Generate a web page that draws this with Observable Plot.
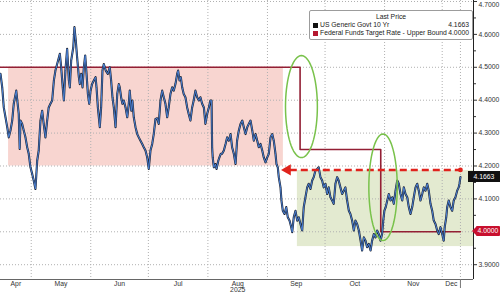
<!DOCTYPE html>
<html><head><meta charset="utf-8">
<script src="https://cdn.jsdelivr.net/npm/d3@7"></script>
<script src="https://cdn.jsdelivr.net/npm/@observablehq/plot@0.6"></script>
<style>
body{margin:0;background:#fff;}
#wrap{position:relative;width:500px;height:295px;overflow:hidden;font-family:"Liberation Sans",Arial,sans-serif;}
#wrap svg{position:absolute;left:0;top:0;}
.legend{position:absolute;background:#fff;border:1px solid #9c9c9c;border-radius:2px;font-size:6.8px;color:#222;line-height:8px;box-sizing:border-box;padding:2px 3px 0 3px;}
.legend .hd{text-align:center;}
.legend .row{display:flex;align-items:center;white-space:nowrap;}
.legend .sw{width:5px;height:5px;margin-right:2px;flex:none;}
.legend .nm{flex:1;}
.legend .vl{text-align:right;}
.tag{position:absolute;color:#fff;font-size:6.8px;text-align:center;box-sizing:border-box;}
</style></head><body><div id="wrap"></div>
<script>
// ---- data (day-of-year 2025) ----
const yieldDoy = [105.0,105.9,106.7,107.6,108.5,109.3,110.2,111.1,111.9,113.2,114.5,115.0,115.4,116.3,117.1,118.0,118.9,119.7,120.6,121.5,122.3,123.2,124.1,124.9,125.8,126.7,127.5,128.4,129.3,130.1,131.0,131.9,132.8,133.6,134.5,135.4,135.9,136.6,137.4,138.0,138.8,139.7,140.6,141.1,141.8,142.9,143.5,144.2,144.9,145.8,146.3,147.0,147.7,148.4,149.1,149.8,150.5,151.2,151.9,152.7,153.6,154.5,155.0,155.7,156.7,157.4,158.1,158.8,159.8,160.9,161.9,162.6,163.3,164.0,164.9,165.8,166.6,167.1,167.8,168.5,169.2,170.1,171.0,171.8,172.3,173.1,173.7,174.4,175.3,176.2,177.0,177.9,178.8,179.6,180.5,181.4,182.2,183.1,184.0,184.8,185.7,186.6,187.4,188.3,189.2,190.0,190.9,191.8,192.6,193.5,194.4,195.2,196.1,197.0,197.5,198.2,198.9,199.6,200.4,201.3,202.2,203.0,203.9,204.8,205.6,206.5,207.4,208.3,209.1,210.0,210.9,211.7,212.6,213.5,214.3,214.9,215.2,215.5,216.1,216.9,217.5,218.4,219.0,219.7,220.4,221.3,222.2,223.0,223.9,224.8,225.6,226.5,227.4,228.2,229.1,230.0,230.9,231.7,232.6,233.5,234.3,235.2,236.1,236.9,237.8,238.7,239.5,240.4,241.3,242.1,243.0,243.9,244.7,245.6,246.5,247.3,248.2,248.7,249.4,249.9,250.8,251.3,252.0,252.9,253.8,254.6,255.5,256.4,256.9,257.7,258.6,259.5,260.3,261.2,262.1,262.9,263.8,264.7,265.5,266.4,267.3,268.1,269.0,269.9,270.7,271.6,272.5,273.3,274.2,275.1,275.9,276.8,277.7,278.5,279.4,280.3,281.1,282.0,282.9,283.8,284.6,285.5,286.4,287.2,288.1,289.0,289.8,290.7,291.6,292.5,293.3,294.2,295.1,295.9,296.8,297.7,298.5,299.4,300.3,301.1,302.0,302.9,303.7,304.3,304.9,305.6,306.4,307.2,308.1,309.0,309.8,310.7,311.6,312.4,313.3,314.2,315.0,315.9,316.8,317.6,318.5,319.4,320.2,321.1,322.0,322.8,323.7,324.6,325.4,326.3,327.2,328.0,328.9,329.8,330.6,331.5,332.4,333.2,334.1,335.0,335.8,336.3,337.1,337.6,338.4,339.3,340.2,341.0,341.9,342.8,343.6,344.0,344.5];
const yieldVal = [4.480,4.439,4.378,4.348,4.318,4.287,4.308,4.338,4.389,4.429,4.358,4.252,4.338,4.328,4.308,4.287,4.257,4.237,4.196,4.176,4.156,4.130,4.216,4.247,4.338,4.368,4.328,4.287,4.338,4.378,4.389,4.399,4.460,4.490,4.510,4.530,4.541,4.500,4.439,4.399,4.490,4.556,4.460,4.439,4.520,4.561,4.622,4.581,4.530,4.470,4.449,4.480,4.439,4.500,4.536,4.480,4.419,4.389,4.429,4.449,4.460,4.470,4.439,4.378,4.318,4.378,4.490,4.510,4.490,4.480,4.500,4.460,4.409,4.378,4.318,4.419,4.449,4.439,4.409,4.389,4.399,4.378,4.348,4.389,4.429,4.368,4.399,4.348,4.318,4.297,4.287,4.277,4.267,4.257,4.247,4.226,4.191,4.247,4.267,4.297,4.343,4.345,4.328,4.399,4.429,4.409,4.389,4.348,4.378,4.419,4.439,4.429,4.449,4.480,4.490,4.460,4.470,4.439,4.419,4.409,4.378,4.358,4.338,4.378,4.399,4.429,4.409,4.399,4.409,4.389,4.378,4.328,4.358,4.378,4.399,4.399,4.257,4.226,4.196,4.206,4.191,4.216,4.226,4.237,4.237,4.247,4.267,4.287,4.277,4.297,4.257,4.237,4.206,4.277,4.308,4.328,4.338,4.318,4.297,4.318,4.328,4.338,4.308,4.277,4.297,4.277,4.257,4.267,4.247,4.226,4.211,4.226,4.237,4.287,4.297,4.277,4.237,4.206,4.196,4.166,4.135,4.095,4.064,4.054,4.075,4.044,4.034,4.014,3.999,4.044,4.064,4.034,4.044,4.024,4.004,4.075,4.105,4.135,4.146,4.130,4.156,4.166,4.186,4.191,4.196,4.166,4.156,4.135,4.146,4.115,4.135,4.105,4.095,4.085,4.146,4.166,4.156,4.135,4.115,4.125,4.135,4.095,4.064,4.054,4.034,4.004,4.034,4.024,4.004,3.973,3.943,3.983,3.973,3.953,3.963,3.943,3.973,3.993,3.983,4.004,3.993,3.973,3.993,4.034,4.064,4.075,4.095,4.115,4.095,4.105,4.085,4.125,4.156,4.146,4.115,4.095,4.135,4.115,4.105,4.075,4.054,4.075,4.105,4.135,4.146,4.125,4.095,4.115,4.135,4.125,4.146,4.125,4.085,4.064,4.034,4.024,4.004,3.993,4.014,3.993,3.973,4.014,4.044,4.075,4.095,4.075,4.064,4.095,4.105,4.125,4.135,4.146,4.1663];
const fedDoy = [105, 261, 303, 344.5];
const fedVal = [4.50, 4.25, 4.00, 4.00];
const lastYield = 4.1663;
const lastFed = 4.0000;
const lastDoy = 344.5;
const domainDoy = [105, 351.3];
const yDomain = [3.855, 4.703];
const yTicks = [3.9, 4.0, 4.1, 4.2, 4.3, 4.4, 4.5, 4.6, 4.7];
const yMinorTicks = [3.95, 4.05, 4.15, 4.25, 4.35, 4.45, 4.55, 4.65];
const monthNames = ["Apr","May","Jun","Jul","Aug","Sep","Oct","Nov","Dec"];
const monthStartDoy = [91,121,152,182,213,244,274,305,335,365];
const yearLabel = "2025";
// annotation zones (data space)
const pinkZone = {x1: 109.2, x2: 252.3, y1: 4.2, y2: 4.5};
const greenZone = {x1: 259.6, x2: 351.3, y1: 3.955, y2: 4.186};
const arrowLevel = 4.188;
const arrowFromDoy = 344.5, arrowToDoy = 252.4;
const ellipses = [{cx: 261.7, cy: 4.3805, rx: 8.3, ry: 0.155}, {cx: 304.2, cy: 4.1353, rx: 7.4, ry: 0.162}];

// ---- build ----
const toDate = doy => new Date(Date.UTC(2025, 0, 1) + (doy - 1) * 864e5);
const yields = yieldDoy.map((d, i) => ({date: toDate(d), v: yieldVal[i]}));
const fed = fedDoy.map((d, i) => ({date: toDate(d), v: fedVal[i]}));
const xDom = domainDoy.map(toDate);
const gridX = monthStartDoy.filter(d => d > domainDoy[0] && d < domainDoy[1]).map(toDate).concat([toDate(lastDoy)]);
const monthLabels = monthNames.map((n, i) => {
  const a = Math.max(monthStartDoy[i], domainDoy[0]);
  const b = Math.min(monthStartDoy[i + 1], lastDoy);
  return {name: n, date: toDate((a + b) / 2)};
});
const ellPts = [];
ellipses.forEach((e, k) => {
  for (let t = 0; t <= 72; t++) {
    const a = t / 72 * 2 * Math.PI;
    ellPts.push({id: k, date: toDate(e.cx + e.rx * Math.cos(a)), v: e.cy + e.ry * Math.sin(a)});
  }
});
const topTick = yTicks[yTicks.length - 1];
const red = "#e0231c";
const chart = Plot.plot({
  width: 500, height: 295,
  marginLeft: 0, marginRight: 27, marginTop: 0, marginBottom: 16,
  style: {fontFamily: '"Liberation Sans", Arial, sans-serif', background: "transparent", overflow: "visible"},
  x: {type: "utc", domain: xDom, axis: null},
  y: {domain: yDomain, axis: null},
  marks: [
    Plot.rect([pinkZone], {x1: d => toDate(d.x1), x2: d => toDate(d.x2), y1: "y1", y2: "y2", fill: "#f8d5d0"}),
    Plot.rect([greenZone], {x1: d => toDate(d.x1), x2: d => toDate(d.x2), y1: "y1", y2: "y2", fill: "#e3ead0"}),
    Plot.ruleY(yTicks, {stroke: "#b0b0b0", strokeDasharray: "1,2"}),
    Plot.ruleX(gridX, {stroke: "#b0b0b0", strokeDasharray: "1,2"}),
    Plot.line(fed, {x: "date", y: "v", curve: "step-after", stroke: "#931f34", strokeWidth: 1.6}),
    Plot.line(yields, {x: "date", y: "v", stroke: "#1b2233", strokeWidth: 2.1}),
    Plot.line(yields, {x: "date", y: "v", stroke: "#4a80d3", strokeWidth: 1}),
    Plot.ruleY([arrowLevel], {x1: toDate(arrowToDoy + 3.5), x2: toDate(arrowFromDoy), stroke: red, strokeWidth: 2.6, strokeDasharray: "7,4"}),
    Plot.dot([arrowLevel], {x: toDate(arrowToDoy), y: d => d, symbol: "triangle", rotate: -90, r: 4.2, dx: 4, fill: red, stroke: "none"}),
    Plot.dot([arrowLevel], {x: toDate(arrowFromDoy), y: d => d, r: 2.4, fill: red, stroke: "none"}),
    Plot.line(ellPts, {x: "date", y: "v", z: "id", stroke: "#79c24b", strokeWidth: 1.5}),
    Plot.ruleX([xDom[1]], {stroke: "#222", strokeWidth: 1}),
    Plot.ruleY([yDomain[0]], {stroke: "#666", strokeWidth: 1}),
    Plot.axisY({anchor: "right", ticks: yTicks, tickFormat: () => "", tickSize: 3, color: "#333"}),
    Plot.axisY({anchor: "right", ticks: yMinorTicks, tickFormat: () => "", tickSize: 2, color: "#333"}),
    Plot.text(yTicks.filter(d => d !== topTick), {y: d => d, frameAnchor: "right", dx: 5, textAnchor: "start", text: d => d.toFixed(4), fontSize: 6.8, fill: "#333"}),
    Plot.text([topTick], {y: d => d, frameAnchor: "right", dx: 5, dy: 3, textAnchor: "start", text: d => d.toFixed(4), fontSize: 6.8, fill: "#333"}),
    Plot.axisX({ticks: [toDate(lastDoy)], tickFormat: () => "", tickSize: 9, color: "#777"}),
    Plot.text(monthLabels, {x: "date", frameAnchor: "bottom", dy: 6, text: "name", fontSize: 6.8, fill: "#333"}),
    Plot.text([yearLabel], {x: monthLabels[4].date, frameAnchor: "bottom", dy: 12.5, text: d => d, fontSize: 6.8, fill: "#333"})
  ]
});
const wrap = document.getElementById("wrap");
wrap.appendChild(chart);
const sx = chart.scale("x"), sy = chart.scale("y");
const axisX = sx.apply(xDom[1]);
// last-price tags
const t1 = document.createElement("div");
t1.className = "tag";
const y1 = sy.apply(lastYield);
Object.assign(t1.style, {left: (axisX - 5) + "px", top: (y1 - 5.5) + "px", width: (500 - axisX + 5) + "px", height: "11px", lineHeight: "11px", background: "#111"});
t1.textContent = lastYield.toFixed(4);
wrap.appendChild(t1);
const t2 = document.createElement("div");
t2.className = "tag";
const y2 = sy.apply(lastFed);
Object.assign(t2.style, {left: (axisX + 3) + "px", top: (y2 - 5) + "px", width: (500 - axisX - 3) + "px", height: "10px", lineHeight: "10px", background: "#c8102e", borderRadius: "1px"});
t2.textContent = lastFed.toFixed(4);
wrap.appendChild(t2);
const p2 = document.createElement("div");
Object.assign(p2.style, {position: "absolute", left: (axisX - 1) + "px", top: (y2 - 4) + "px", width: 0, height: 0, borderTop: "4px solid transparent", borderBottom: "4px solid transparent", borderRight: "4px solid #c8102e"});
wrap.appendChild(p2);
// legend
const lg = document.createElement("div");
lg.className = "legend";
Object.assign(lg.style, {left: "309px", top: "10px", width: (axisX - 309) + "px", height: "30px"});
lg.innerHTML = '<div class="hd">Last Price</div>' +
  '<div class="row"><span class="sw" style="background:#111"></span><span class="nm">US Generic Govt 10 Yr</span><span class="vl">' + lastYield.toFixed(4) + '</span></div>' +
  '<div class="row"><span class="sw" style="background:#b5172f"></span><span class="nm">Federal Funds Target Rate - Upper Bound</span><span class="vl">' + lastFed.toFixed(4) + '</span></div>';
wrap.appendChild(lg);
</script></body></html>
